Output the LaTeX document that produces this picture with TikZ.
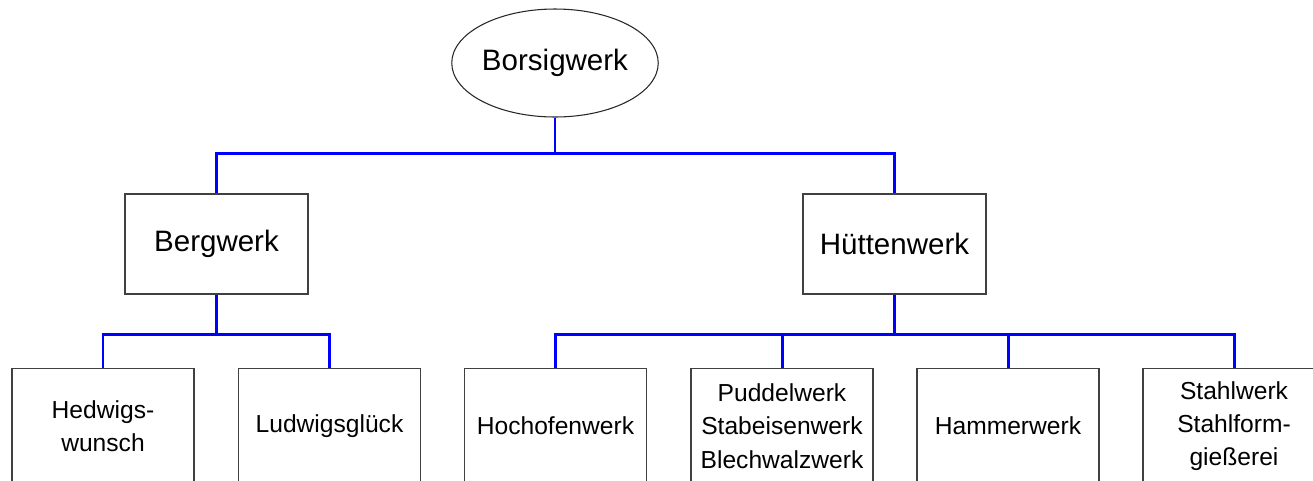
\documentclass[tikz,border=0pt]{standalone}
\usepackage{fontspec}
\setmainfont{Liberation Sans}
\usetikzlibrary{shapes.geometric}

\tikzset{
  werk/.style={draw=black!75, line width=0.6pt, minimum width=3.66cm, minimum height=2cm,
    align=center, font=\fontsize{16.8}{20}\selectfont},
  teil/.style={draw=black!75, line width=0.6pt, minimum width=3.64cm, minimum height=2.3cm,
    anchor=north, align=center, font=\fontsize{14}{19}\selectfont},
  link/.style={blue, line width=1.7pt}
}

\begin{document}
\begin{tikzpicture}
\clip (0,0) rectangle (26.26,-9.6);
% ----- top: Borsigwerk -----
\node[ellipse, draw=black!85, line width=0.6pt, inner sep=0pt, minimum width=3.68cm,
  minimum height=2.16cm, font=\fontsize{16.8}{20}\selectfont] (borsig) at (11.1,-1.26) {Borsigwerk};
% ----- middle row -----
\node[werk] (berg) at (4.33,-4.88) {Bergwerk};
\node[werk] (huette) at (17.89,-4.88) {Hüttenwerk};
% ----- bottom row -----
\node[teil] (hedwig) at (2.06,-7.36) {Hedwigs-\\wunsch};
\node[teil] (ludwig) at (6.59,-7.36) {Ludwigsglück};
\node[teil] (hochofen) at (11.11,-7.36) {Hochofenwerk};
\node[teil] (puddel) at (15.64,-7.36) {Puddelwerk\\Stabeisenwerk\\Blechwalzwerk};
\node[teil] (hammer) at (20.16,-7.36) {Hammerwerk};
\node[teil] (stahl) at (24.68,-7.36) {Stahlwerk\\Stahlform-\\gießerei};
% ----- connectors -----
\draw[link] (borsig.south) -- ++(0,-0.72) -| (berg.north);
\draw[link] (borsig.south) -- ++(0,-0.72) -| (huette.north);
\draw[link] (berg.south) -- ++(0,-0.8) -| (hedwig.north);
\draw[link] (berg.south) -- ++(0,-0.8) -| (ludwig.north);
\draw[link] (huette.south) -- ++(0,-0.8) -| (hochofen.north);
\draw[link] (huette.south) -- ++(0,-0.8) -| (puddel.north);
\draw[link] (huette.south) -- ++(0,-0.8) -| (hammer.north);
\draw[link] (huette.south) -- ++(0,-0.8) -| (stahl.north);
\end{tikzpicture}
\end{document}
